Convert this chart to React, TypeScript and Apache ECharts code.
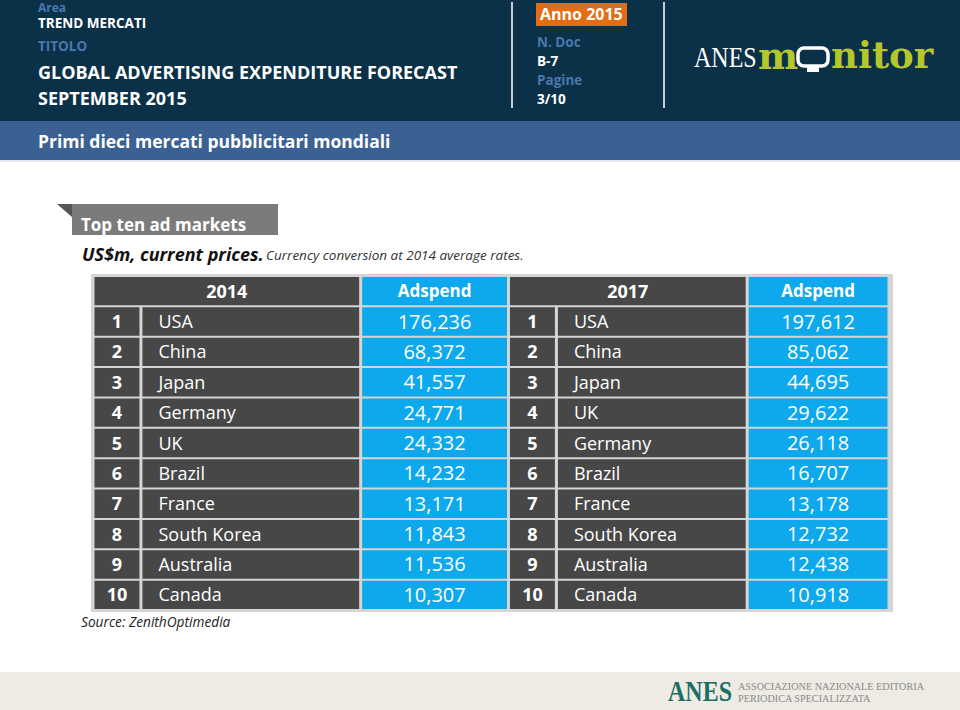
import React, { useEffect, useRef } from "react";
import * as echarts from "echarts";

// ---- data ----
const years = ["2014", "2017"];
const valueHeader = "Adspend";
const ranks = [1, 2, 3, 4, 5, 6, 7, 8, 9, 10];
const markets2014 = ["USA", "China", "Japan", "Germany", "UK", "Brazil", "France", "South Korea", "Australia", "Canada"];
const adspend2014 = [176236, 68372, 41557, 24771, 24332, 14232, 13171, 11843, 11536, 10307];
const markets2017 = ["USA", "China", "Japan", "UK", "Germany", "Brazil", "France", "South Korea", "Australia", "Canada"];
const adspend2017 = [197612, 85062, 44695, 29622, 26118, 16707, 13178, 12732, 12438, 10918];

// ---- layout (not data) ----
const colEdges = [0, 48, 268, 416, 464, 655, 797];
const DARK = "#474747";
const BLUE = "#0ea8ec";
const SANS = "'Open Sans', 'Noto Sans', sans-serif";

type Cell = { c0: number; c1: number; r: number; text: string; fill: string; bold: boolean; align: "left" | "center"; size: number };

function fmt(v: number) {
  return v.toLocaleString("en-US");
}

function buildCells(): Cell[] {
  const cells: Cell[] = [];
  cells.push({ c0: 0, c1: 2, r: 0, text: years[0], fill: DARK, bold: true, align: "center", size: 18 });
  cells.push({ c0: 2, c1: 3, r: 0, text: valueHeader, fill: BLUE, bold: true, align: "center", size: 17 });
  cells.push({ c0: 3, c1: 5, r: 0, text: years[1], fill: DARK, bold: true, align: "center", size: 18 });
  cells.push({ c0: 5, c1: 6, r: 0, text: valueHeader, fill: BLUE, bold: true, align: "center", size: 17 });
  ranks.forEach((rk, i) => {
    const r = i + 1;
    cells.push({ c0: 0, c1: 1, r, text: String(rk), fill: DARK, bold: true, align: "center", size: 18 });
    cells.push({ c0: 1, c1: 2, r, text: markets2014[i], fill: DARK, bold: false, align: "left", size: 18 });
    cells.push({ c0: 2, c1: 3, r, text: fmt(adspend2014[i]), fill: BLUE, bold: false, align: "center", size: 20 });
    cells.push({ c0: 3, c1: 4, r, text: String(rk), fill: DARK, bold: true, align: "center", size: 18 });
    cells.push({ c0: 4, c1: 5, r, text: markets2017[i], fill: DARK, bold: false, align: "left", size: 18 });
    cells.push({ c0: 5, c1: 6, r, text: fmt(adspend2017[i]), fill: BLUE, bold: false, align: "center", size: 20 });
  });
  return cells;
}

function txt(x: number, y: number, text: string, o: any = {}) {
  return {
    type: "text",
    x,
    y,
    z: 5,
    style: {
      text,
      fill: o.fill || "#fff",
      fontSize: o.size || 14,
      fontWeight: o.weight || "normal",
      fontStyle: o.style || "normal",
      fontFamily: o.family || SANS,
      align: o.align || "left",
      textAlign: o.align || "left",
      verticalAlign: "middle",
      textVerticalAlign: "middle",
    },
    scaleX: o.scaleX || 1,
  };
}

export default function App() {
  const ref = useRef<HTMLDivElement>(null);
  useEffect(() => {
    document.body.style.margin = "0";
    const chart = echarts.init(ref.current!, null, { renderer: "svg" });
    const cells = buildCells();
    const rowKeys = ["head", ...ranks.map(String)];
    const LBL = "#4a78ad";
    const option: any = {
      animation: false,
      backgroundColor: "#ffffff",
      grid: { left: 93, top: 276, width: 796, height: 334 },
      xAxis: { type: "value", min: 0, max: 797, show: false },
      yAxis: { type: "category", data: rowKeys, inverse: true, show: false },
      graphic: [
        // header
        { type: "rect", z: 1, shape: { x: 0, y: 0, width: 960, height: 121 }, style: { fill: "#0b3149" } },
        { type: "rect", z: 1, shape: { x: 0, y: 121, width: 960, height: 39 }, style: { fill: "#3a6191" } },
        { type: "rect", z: 1, shape: { x: 0, y: 160, width: 960, height: 2 }, style: { fill: "#e4e8ee" } },
        txt(38, 7, "Area", { fill: LBL, size: 12, weight: "bold" }),
        txt(38, 23, "TREND MERCATI", { size: 13.5, weight: "bold" }),
        txt(38, 46, "TITOLO", { fill: LBL, size: 13.5, weight: "bold" }),
        txt(38, 72, "GLOBAL ADVERTISING EXPENDITURE FORECAST", { size: 18, weight: "bold" }),
        txt(38, 98, "SEPTEMBER 2015", { size: 18, weight: "bold" }),
        { type: "rect", z: 2, shape: { x: 511, y: 2, width: 2, height: 106 }, style: { fill: "#c9ccd0" } },
        { type: "rect", z: 2, shape: { x: 663, y: 2, width: 2, height: 106 }, style: { fill: "#c9ccd0" } },
        { type: "rect", z: 2, shape: { x: 536, y: 3, width: 91, height: 23 }, style: { fill: "#e46c12" } },
        txt(540, 14, "Anno 2015", { size: 16, weight: "bold" }),
        txt(537, 42, "N. Doc", { fill: LBL, size: 13.5, weight: "bold" }),
        txt(537, 61, "B-7", { size: 13.5, weight: "bold" }),
        txt(537, 80, "Pagine", { fill: LBL, size: 13.5, weight: "bold" }),
        txt(537, 99, "3/10", { size: 13.5, weight: "bold" }),
        // logo
        txt(694, 57, "ANES", { size: 30, family: "'Liberation Serif', serif", scaleX: 0.8 }),
        txt(758, 55, "m", { size: 38, weight: "bold", family: "'DejaVu Serif', serif", fill: "#b5c72b" }),
        { type: "rect", z: 5, shape: { x: 798, y: 48, width: 30, height: 18, r: 6 }, style: { fill: "none", stroke: "#ffffff", lineWidth: 3.5 } },
        { type: "rect", z: 5, shape: { x: 807, y: 66, width: 12, height: 6 }, style: { fill: "#ffffff" } },
        txt(831, 55, "nitor", { size: 37, weight: "bold", family: "'DejaVu Serif', serif", fill: "#b5c72b" }),
        txt(38, 141, "Primi dieci mercati pubblicitari mondiali", { size: 17.5, weight: "bold" }),
        // subtitle tab
        { type: "rect", z: 1, shape: { x: 72, y: 204, width: 206, height: 31 }, style: { fill: "#7b7b7b" } },
        { type: "polygon", z: 1, shape: { points: [[57, 204], [72, 204], [72, 217]] }, style: { fill: "#555555" } },
        txt(81, 224, "Top ten ad markets", { size: 17, weight: "bold" }),
        txt(82, 254, "US$m, current prices.", { size: 18, weight: "bold", style: "italic", fill: "#111" }),
        txt(266, 255, "Currency conversion at 2014 average rates.", { size: 13.5, style: "italic", fill: "#333" }),
        // table background
        { type: "rect", z: 0, shape: { x: 91, y: 274, width: 802, height: 338 }, style: { fill: "#d5d5d5" } },
        txt(81, 621, "Source: ZenithOptimedia", { size: 13.7, style: "italic", fill: "#222" }),
        // footer
        { type: "rect", z: 1, shape: { x: 0, y: 672, width: 960, height: 38 }, style: { fill: "#edebe4" } },
        txt(668, 691, "ANES", { size: 30, weight: "bold", family: "'Liberation Serif', serif", fill: "#1b6e66", scaleX: 0.8 }),
        txt(738, 686, "ASSOCIAZIONE NAZIONALE EDITORIA", { size: 10.2, family: "'Liberation Serif', serif", fill: "#8a8a8a" }),
        txt(738, 698, "PERIODICA SPECIALIZZATA", { size: 10.2, family: "'Liberation Serif', serif", fill: "#8a8a8a" }),
      ],
      series: [
        {
          type: "custom",
          z: 10,
          coordinateSystem: "cartesian2d",
          data: cells.map((c) => [colEdges[c.c0], c.r]),
          renderItem: (params: any, api: any) => {
            const cell = cells[params.dataIndex];
            const r = api.value(1);
            const left = api.coord([colEdges[cell.c0], r]);
            const right = api.coord([colEdges[cell.c1], r]);
            const h = api.size([0, 1])[1];
            const x0 = left[0] + 1.5;
            const x1 = right[0] - 1.5;
            const y0 = left[1] - h / 2 + 1;
            const y1 = left[1] + h / 2 - 1;
            const tx = cell.align === "left" ? x0 + 16 : (x0 + x1) / 2;
            return {
              type: "group",
              children: [
                { type: "rect", shape: { x: x0, y: y0, width: x1 - x0, height: y1 - y0 }, style: { fill: cell.fill } },
                {
                  type: "text",
                  style: {
                    text: cell.text,
                    x: tx,
                    y: (y0 + y1) / 2 - 0.5,
                    fill: "#ffffff",
                    fontSize: cell.size,
                    fontWeight: cell.bold ? "bold" : "normal",
                    fontFamily: SANS,
                    align: cell.align,
                    textAlign: cell.align,
                    verticalAlign: "middle",
                    textVerticalAlign: "middle",
                  },
                },
              ],
            };
          },
        },
      ],
    };
    chart.setOption(option);
    return () => chart.dispose();
  }, []);
  return <div ref={ref} style={{ width: 960, height: 710 }} />;
}
